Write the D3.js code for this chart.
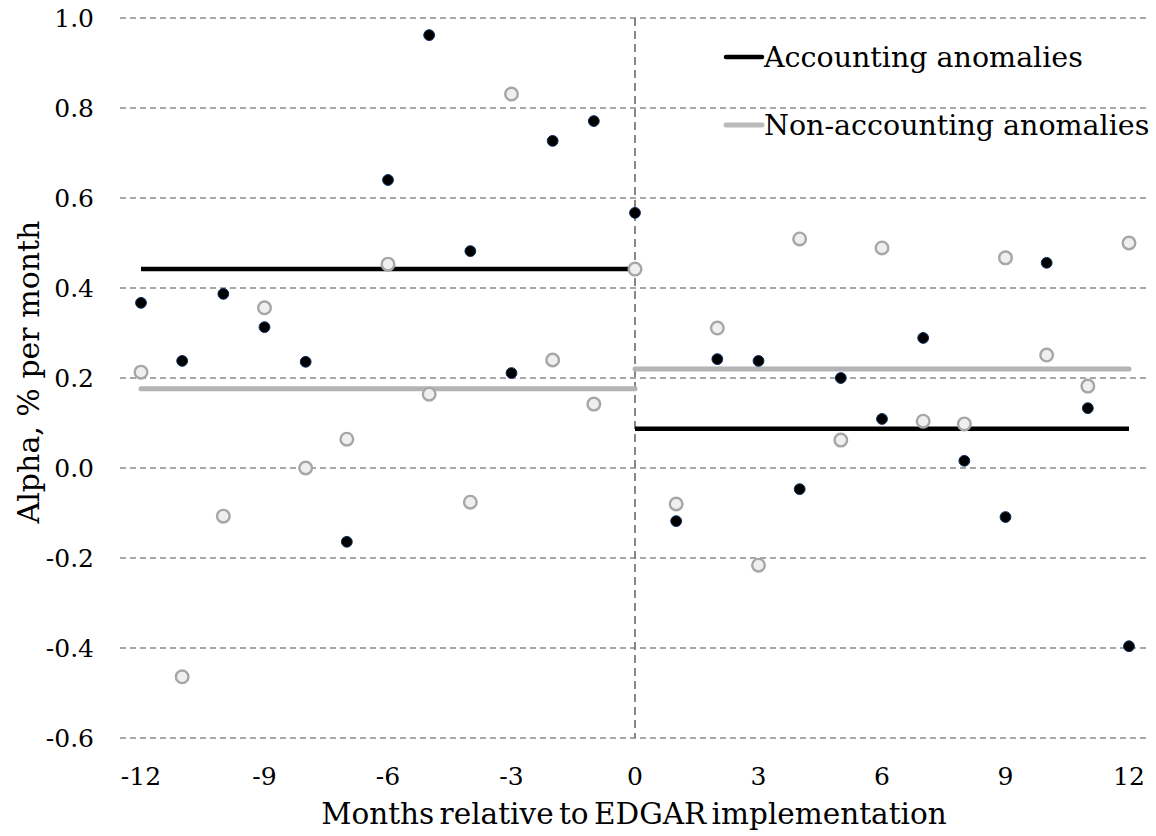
<!DOCTYPE html>
<html>
<head>
<meta charset="utf-8">
<script src="https://cdn.jsdelivr.net/npm/d3@7"></script>
<style>
  html, body { margin: 0; padding: 0; background: #fff; }
  svg { display: block; }
  text { font-family: "DejaVu Serif", "Liberation Serif", serif; fill: #000; }
</style>
</head>
<body>
<svg id="chart" width="1156" height="836"></svg>
<script>
// ---- Data ----
const months = [-12,-11,-10,-9,-8,-7,-6,-5,-4,-3,-2,-1,0,1,2,3,4,5,6,7,8,9,10,11,12];
const accounting = [0.367,0.238,0.387,0.313,0.236,-0.164,0.640,0.962,0.482,0.211,0.727,0.771,0.567,
                    -0.118,0.242,0.238,-0.047,0.200,0.109,0.289,0.016,-0.109,0.456,0.133,-0.396];
const nonAccounting = [0.213,-0.464,-0.107,0.356,0.000,0.064,0.453,0.164,-0.076,0.831,0.240,0.142,0.442,
                       -0.080,0.311,-0.216,0.509,0.062,0.489,0.104,0.098,0.467,0.251,0.182,0.500];
// period means: [start, end, value]
const accountingMeans = [[-12,0,0.442],[0,12,0.087]];
const nonAccountingMeans = [[-12,0,0.176],[0,12,0.220]];
const yTicks = [-0.6,-0.4,-0.2,0.0,0.2,0.4,0.6,0.8,1.0];
const xTicks = [-12,-9,-6,-3,0,3,6,9,12];
const seriesNames = ["Accounting anomalies","Non-accounting anomalies"];

// ---- Scales ----
const svg = d3.select("#chart");
const x = d3.scaleLinear().domain([-12,12]).range([141,1129]);
const y = d3.scaleLinear().domain([-0.6,1.0]).range([738,18]);
const plotLeft = 120, plotRight = 1150;

// gridlines
svg.append("g").selectAll("line").data(yTicks).join("line")
  .attr("x1", plotLeft).attr("x2", plotRight)
  .attr("y1", d => y(d)).attr("y2", d => y(d))
  .attr("stroke", "#8a8a8a").attr("stroke-width", 1.3)
  .attr("stroke-dasharray", "6,4");

// vertical line at event month 0
svg.append("line")
  .attr("x1", x(0)).attr("x2", x(0)).attr("y1", y(1.0)).attr("y2", y(-0.6))
  .attr("stroke", "#7a7a7a").attr("stroke-width", 1.8)
  .attr("stroke-dasharray", "8,5");

// y tick labels
svg.append("g").selectAll("text").data(yTicks).join("text")
  .attr("x", 94).attr("y", d => y(d)).attr("dy", "0.36em")
  .attr("text-anchor", "end").attr("font-size", 25)
  .text(d => d3.format(".1f")(d).replace("−","-"));

// x tick labels
svg.append("g").selectAll("text").data(xTicks).join("text")
  .attr("x", d => x(d)).attr("y", 785)
  .attr("text-anchor", "middle").attr("font-size", 25)
  .text(d => String(d));

// axis titles
svg.append("text")
  .attr("x", 634).attr("y", 824).attr("text-anchor", "middle")
  .attr("font-size", 29.5).attr("word-spacing", -4)
  .text("Months relative to EDGAR implementation");
svg.append("text")
  .attr("transform", "translate(39,372) rotate(-90)")
  .attr("text-anchor", "middle").attr("font-size", 30)
  .text("Alpha, % per month");

// mean lines
svg.append("g").selectAll("line").data(nonAccountingMeans).join("line")
  .attr("x1", d => x(d[0])).attr("x2", d => x(d[1]))
  .attr("y1", d => y(d[2])).attr("y2", d => y(d[2]))
  .attr("stroke", "#b4b4b4").attr("stroke-width", 5).attr("stroke-linecap", "round");
svg.append("g").selectAll("line").data(accountingMeans).join("line")
  .attr("x1", d => x(d[0])).attr("x2", d => x(d[1]))
  .attr("y1", d => y(d[2])).attr("y2", d => y(d[2]))
  .attr("stroke", "#000").attr("stroke-width", 4.5);

// points
svg.append("g").selectAll("circle").data(months.map((m,i)=>[m,nonAccounting[i]])).join("circle")
  .attr("cx", d => x(d[0])).attr("cy", d => y(d[1])).attr("r", 6.3)
  .attr("fill", "#efefef").attr("stroke", "#a6a6a6").attr("stroke-width", 2.4);
svg.append("g").selectAll("circle").data(months.map((m,i)=>[m,accounting[i]])).join("circle")
  .attr("cx", d => x(d[0])).attr("cy", d => y(d[1])).attr("r", 5.4)
  .attr("fill", "#000").attr("stroke", "#0b2a5c").attr("stroke-width", 1);

// legend
const legend = svg.append("g");
const legendRows = [
  {name: seriesNames[0], color: "#000", w: 4.5, yy: 57},
  {name: seriesNames[1], color: "#bbbbbb", w: 5, yy: 125}
];
legendRows.forEach(r => {
  legend.append("line").attr("x1", 726).attr("x2", 762).attr("y1", r.yy).attr("y2", r.yy)
    .attr("stroke", r.color).attr("stroke-width", r.w).attr("stroke-linecap", "round");
  legend.append("text").attr("x", 764).attr("y", r.yy).attr("dy", "0.35em")
    .attr("font-size", 28.5).text(r.name);
});
</script>
</body>
</html>
